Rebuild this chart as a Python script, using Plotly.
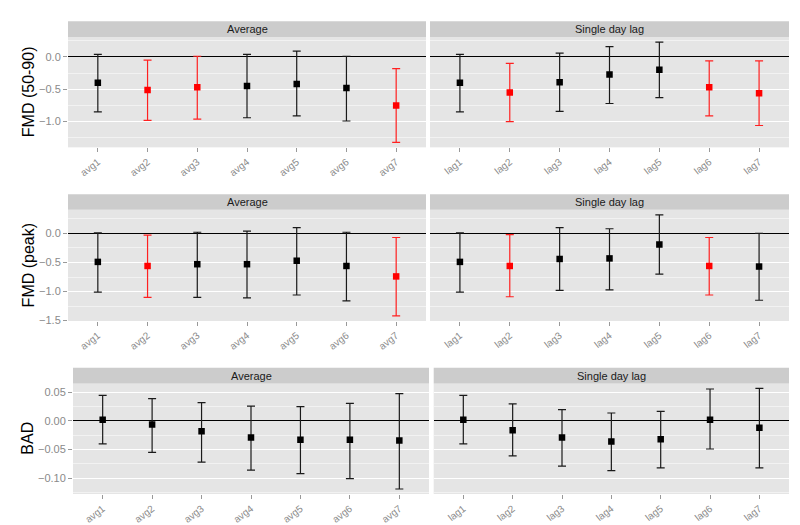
import plotly.graph_objects as go

# ---------------- data ----------------
cats_avg = ["avg1", "avg2", "avg3", "avg4", "avg5", "avg6", "avg7"]
cats_lag = ["lag1", "lag2", "lag3", "lag4", "lag5", "lag6", "lag7"]
facet_titles = ["Average", "Single day lag"]
row_titles = ["FMD (50-90)", "FMD (peak)", "BAD"]

fmd5090_avg_est = [-0.40, -0.51, -0.47, -0.45, -0.42, -0.48, -0.75]
fmd5090_avg_lo = [-0.85, -0.98, -0.96, -0.94, -0.91, -0.99, -1.32]
fmd5090_avg_hi = [0.04, -0.05, 0.01, 0.04, 0.09, 0.01, -0.18]
fmd5090_avg_sig = [0, 1, 1, 0, 0, 0, 1]

fmd5090_lag_est = [-0.40, -0.55, -0.39, -0.27, -0.20, -0.47, -0.56]
fmd5090_lag_lo = [-0.85, -1.00, -0.84, -0.72, -0.63, -0.91, -1.06]
fmd5090_lag_hi = [0.04, -0.10, 0.06, 0.16, 0.23, -0.06, -0.06]
fmd5090_lag_sig = [0, 1, 0, 0, 0, 1, 1]

peak_avg_est = [-0.49, -0.56, -0.53, -0.53, -0.47, -0.56, -0.74]
peak_avg_lo = [-1.01, -1.10, -1.10, -1.11, -1.06, -1.16, -1.42]
peak_avg_hi = [0.01, -0.03, 0.02, 0.04, 0.10, 0.02, -0.07]
peak_avg_sig = [0, 1, 0, 0, 0, 0, 1]

peak_lag_est = [-0.49, -0.56, -0.44, -0.43, -0.19, -0.56, -0.57]
peak_lag_lo = [-1.01, -1.09, -0.98, -0.97, -0.70, -1.06, -1.15]
peak_lag_hi = [0.01, -0.02, 0.10, 0.08, 0.32, -0.07, 0.00]
peak_lag_sig = [0, 1, 0, 0, 0, 1, 0]

bad_avg_est = [0.002, -0.006, -0.018, -0.029, -0.033, -0.033, -0.034]
bad_avg_lo = [-0.040, -0.055, -0.072, -0.086, -0.092, -0.101, -0.119]
bad_avg_hi = [0.045, 0.039, 0.032, 0.026, 0.025, 0.031, 0.048]
bad_avg_sig = [0, 0, 0, 0, 0, 0, 0]

bad_lag_est = [0.002, -0.016, -0.029, -0.036, -0.032, 0.002, -0.012]
bad_lag_lo = [-0.040, -0.061, -0.079, -0.087, -0.082, -0.049, -0.082]
bad_lag_hi = [0.045, 0.030, 0.020, 0.014, 0.017, 0.056, 0.057]
bad_lag_sig = [0, 0, 0, 0, 0, 0, 0]

panels = [
    (cats_avg, fmd5090_avg_est, fmd5090_avg_lo, fmd5090_avg_hi, fmd5090_avg_sig),
    (cats_lag, fmd5090_lag_est, fmd5090_lag_lo, fmd5090_lag_hi, fmd5090_lag_sig),
    (cats_avg, peak_avg_est, peak_avg_lo, peak_avg_hi, peak_avg_sig),
    (cats_lag, peak_lag_est, peak_lag_lo, peak_lag_hi, peak_lag_sig),
    (cats_avg, bad_avg_est, bad_avg_lo, bad_avg_hi, bad_avg_sig),
    (cats_lag, bad_lag_est, bad_lag_lo, bad_lag_hi, bad_lag_sig),
]

# ---------------- layout geometry (pixels) ----------------
W, H = 800, 525
rows_px = [(29.3, 140.7, 13.3), (203.7, 316.0, 188.0), (379.0, 490.7, 363.3)]
cols_px = [
    [(60, 418), (422, 781)],
    [(60, 418), (422, 781)],
    [(65, 421), (425.7, 781)],
]
row_dtick = [0.5, 0.5, 0.05]
row_fmt = [".1f", ".1f", ".2f"]

GREY_TXT = "#8a8a8a"
FONT = "Liberation Sans, Arial"
fig = go.Figure()
shapes = []
annotations = []

for r in range(3):
    top, bot, strip_top = rows_px[r]
    # y range from data with 5% expansion (shared across the row)
    lo_all = min(panels[2 * r][2] + panels[2 * r + 1][2])
    hi_all = max(panels[2 * r][3] + panels[2 * r + 1][3])
    span = hi_all - lo_all
    yr = [lo_all - 0.05 * span, hi_all + 0.05 * span]
    for c in range(2):
        idx = 2 * r + c + 1
        cats, est, lo, hi, sig = panels[2 * r + c]
        xname = "x" if idx == 1 else f"x{idx}"
        yname = "y" if idx == 1 else f"y{idx}"
        x0, x1 = cols_px[r][c]
        for flag, col, ecol in [(0, "#000000", "#1a1a1a"), (1, "#FF0000", "#FF2020")]:
            ii = [i for i in range(len(cats)) if sig[i] == flag]
            if not ii:
                continue
            fig.add_trace(go.Scatter(
                x=[cats[i] for i in ii],
                y=[est[i] for i in ii],
                mode="markers",
                marker=dict(symbol="square", size=6.5, color=col),
                error_y=dict(type="data", symmetric=False,
                             array=[hi[i] - est[i] for i in ii],
                             arrayminus=[est[i] - lo[i] for i in ii],
                             color=ecol, thickness=1.2, width=4),
                xaxis=xname, yaxis=yname, showlegend=False,
                hoverinfo="x+y",
            ))
        xkey = "xaxis" if idx == 1 else f"xaxis{idx}"
        ykey = "yaxis" if idx == 1 else f"yaxis{idx}"
        fig.layout[xkey] = dict(
            domain=[x0 / W, x1 / W], anchor=yname,
            type="category", categoryorder="array", categoryarray=cats,
            range=[-0.6, len(cats) - 0.4],
            showgrid=False, zeroline=False, showline=False,
            ticks="outside", ticklen=4, tickcolor="#999999",
            tickangle=-38, tickfont=dict(family=FONT, size=10, color=GREY_TXT),
        )
        fig.layout[ykey] = dict(
            domain=[1 - bot / H, 1 - top / H], anchor=xname,
            range=yr, tick0=0, dtick=row_dtick[r], tickformat=row_fmt[r],
            showgrid=True, gridcolor="#FFFFFF", gridwidth=1.1,
            minor=dict(dtick=row_dtick[r] / 2, tick0=0, showgrid=True, gridcolor="#F2F2F2", gridwidth=0.8),
            zeroline=True, zerolinecolor="#000000", zerolinewidth=1,
            showline=False,
            ticks="outside" if c == 0 else "", ticklen=4, tickcolor="#999999",
            showticklabels=(c == 0),
            tickfont=dict(family=FONT, size=11, color=GREY_TXT),
        )
        # strip
        shapes.append(dict(type="rect", xref="paper", yref="paper",
                           x0=x0 / W, x1=x1 / W, y0=1 - top / H, y1=1 - strip_top / H,
                           fillcolor="#CCCCCC", line=dict(width=0), layer="below"))
        annotations.append(dict(text=facet_titles[c], xref="paper", yref="paper",
                                x=(x0 + x1) / 2 / W, y=1 - (top + strip_top) / 2 / H,
                                showarrow=False, xanchor="center", yanchor="middle",
                                font=dict(family=FONT, size=11, color="#1a1a1a")))
    # row title
    annotations.append(dict(text=row_titles[r], xref="paper", yref="paper",
                            x=20 / W, y=1 - (top + bot) / 2 / H, textangle=-90,
                            showarrow=False, xanchor="center", yanchor="middle",
                            font=dict(family=FONT, size=16, color="#000000")))

fig.update_layout(
    width=W, height=H,
    margin=dict(l=0, r=0, t=0, b=0),
    paper_bgcolor="#FFFFFF", plot_bgcolor="#E5E5E5",
    shapes=shapes, annotations=annotations,
    showlegend=False,
)
fig.write_html("out.html")
